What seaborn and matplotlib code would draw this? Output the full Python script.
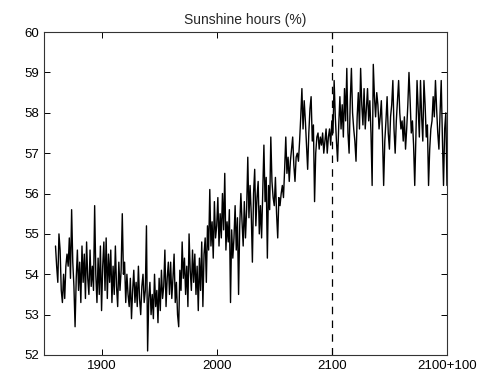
import numpy as np
import pandas as pd
import matplotlib
matplotlib.use("Agg")
import matplotlib.pyplot as plt
import seaborn as sns

# annual sunshine hours (%), 1860..2200
first_year = 1860
sunshine = [
    54.7, 54.2, 53.8, 55.0, 54.6, 53.6, 53.3, 54.0, 53.4, 54.2,   # 1860s
    54.5, 54.2, 54.9, 53.9, 55.6, 54.3, 53.7, 52.7, 53.9, 54.6,   # 1870s
    53.6, 54.3, 53.3, 54.7, 53.8, 54.5, 53.4, 54.8, 53.9, 53.5,   # 1880s
    54.6, 53.7, 54.2, 53.6, 55.7, 54.0, 53.3, 54.4, 53.5, 54.7,   # 1890s
    53.1, 54.2, 54.8, 53.6, 54.9, 53.4, 54.5, 53.8, 54.6, 53.3,   # 1900s
    54.2, 53.5, 54.7, 53.7, 53.2, 54.3, 53.6, 54.1, 55.5, 54.0,   # 1910s
    54.3, 53.3, 54.0, 53.5, 53.2, 53.9, 52.9, 53.6, 54.1, 53.3,   # 1920s
    53.8, 53.2, 54.2, 53.4, 53.0, 53.7, 54.0, 53.3, 53.6, 55.2,   # 1930s
    52.1, 53.4, 53.8, 53.0, 53.5, 52.9, 54.0, 53.2, 53.6, 52.8,   # 1940s
    53.9, 53.1, 54.1, 53.4, 53.7, 54.6, 53.2, 53.9, 54.3, 53.5,   # 1950s
    54.3, 53.4, 53.9, 54.5, 53.3, 53.8, 53.0, 52.7, 54.1, 53.6,   # 1960s
    54.8, 53.9, 54.4, 53.5, 54.2, 53.2, 55.0, 54.1, 53.6, 54.6,   # 1970s
    53.8, 54.5, 53.5, 54.2, 53.1, 54.4, 53.6, 54.8, 53.2, 54.5,   # 1980s
    54.9, 53.8, 55.2, 54.6, 56.1, 54.7, 55.3, 54.4, 55.8, 54.9,   # 1990s
    55.2, 55.9, 54.7, 55.5, 54.9, 56.0, 55.1, 56.5, 54.6, 55.3,   # 2000s
    54.8, 55.6, 53.3, 55.1, 54.4, 54.9, 55.7, 54.6, 55.4, 53.5,   # 2010s
    55.2, 56.0, 55.3, 54.7, 55.8, 54.9, 55.6, 56.9, 55.4, 56.2,   # 2020s
    55.5, 54.3, 56.0, 56.6, 55.2, 55.9, 56.3, 55.0, 55.7, 54.9,   # 2030s
    56.1, 57.2, 55.8, 56.4, 54.4, 56.2, 55.6, 57.4, 56.3, 55.9,   # 2040s
    55.7, 56.4, 55.5, 54.9, 55.9, 55.7, 56.0, 56.2, 55.9, 56.6,   # 2050s
    57.4, 56.5, 56.9, 56.3, 56.8, 57.1, 57.4, 56.7, 56.3, 56.9,   # 2060s
    57.0, 56.8, 57.3, 57.9, 58.6, 57.6, 58.3, 57.8, 57.2, 56.6,   # 2070s
    57.5, 58.1, 58.4, 57.3, 57.7, 55.8, 57.0, 57.4, 57.5, 57.1,   # 2080s
    57.4, 57.2, 57.5, 57.0, 57.3, 57.6, 57.0, 57.4, 57.6, 57.2,   # 2090s
    57.8, 57.5, 58.8, 57.9, 57.3, 56.8, 57.7, 58.4, 57.6, 58.2,   # 2100s
    57.4, 58.6, 57.8, 59.1, 57.5, 57.0, 58.3, 59.1, 58.0, 57.6,   # 2110s
    57.3, 56.8, 57.9, 58.5, 57.6, 59.1, 58.2, 57.7, 58.6, 57.6,   # 2120s
    58.1, 58.6, 57.8, 58.3, 57.5, 56.2, 59.2, 58.4, 57.9, 58.5,   # 2130s
    58.2, 57.6, 57.9, 58.3, 57.4, 56.2, 57.3, 57.8, 58.4, 57.5,   # 2140s
    57.1, 57.9, 58.2, 58.8, 57.6, 57.0, 57.8, 58.3, 58.8, 58.0,   # 2150s
    57.6, 57.8, 57.3, 57.9, 57.1, 57.6, 58.2, 59.0, 58.3, 57.5,   # 2160s
    57.8, 57.2, 56.2, 57.4, 58.8, 58.1, 57.4, 58.8, 57.9, 57.3,   # 2170s
    58.8, 58.2, 57.4, 57.7, 56.2, 57.1, 57.6, 57.8, 58.4, 57.9,   # 2180s
    58.8, 58.1, 57.5, 57.1, 58.0, 58.8, 57.4, 56.2, 57.6, 58.0,   # 2190s
    56.2,                                                         # 2200
]
years = list(range(first_year, first_year + len(sunshine)))

x_ticks = [1900, 2000, 2100, 2200]
x_tick_labels = ["1900", "2000", "2100", "2100+100"]
y_ticks = [52, 53, 54, 55, 56, 57, 58, 59, 60]
split_year = 2100

df = pd.DataFrame({"year": years, "sunshine": sunshine})

sns.set_style("ticks")
plt.rcParams["font.family"] = ["Liberation Sans", "DejaVu Sans"]

fig = plt.figure(figsize=(4.85, 3.82), dpi=100)
ax = fig.add_axes([0.0907, 0.0707, 0.8309, 0.8453])

sns.lineplot(data=df, x="year", y="sunshine", ax=ax, color="black", linewidth=1.0)
ax.axvline(split_year, color="black", linestyle=(0, (6, 5)), linewidth=0.9)

ax.set_xlim(1850, 2200)
ax.set_ylim(52, 60)
ax.set_xticks(x_ticks)
ax.set_xticklabels(x_tick_labels)
ax.set_yticks(y_ticks)
ax.set_xlabel("")
ax.set_ylabel("")
ax.set_title("Sunshine hours (%)", fontsize=10, pad=6)

ax.tick_params(direction="in", length=4, width=0.7, top=True, right=True,
               labelsize=9.5, colors="black")
for spine in ax.spines.values():
    spine.set_visible(True)
    spine.set_linewidth(0.8)
    spine.set_color("#333333")

fig.savefig("out.png", dpi=100)
